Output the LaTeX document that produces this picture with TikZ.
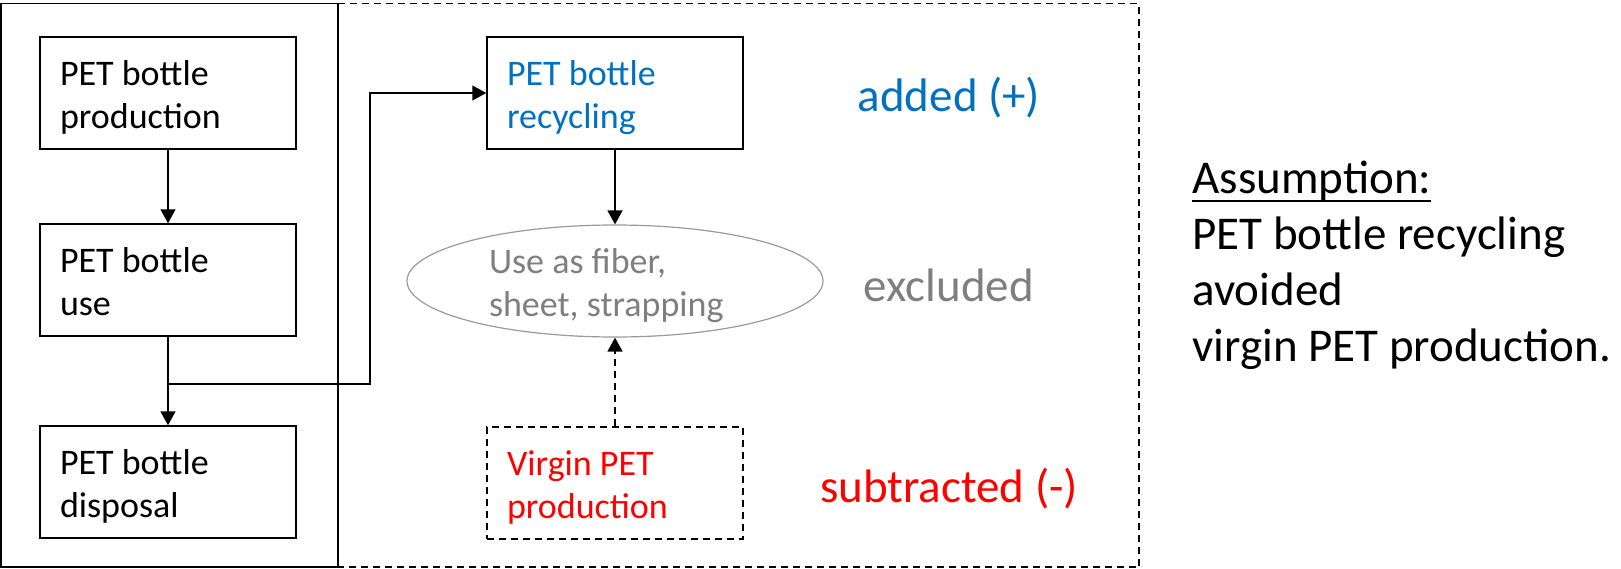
\documentclass[tikz,border=0pt]{standalone}
\usepackage{fontspec}
\setmainfont{Carlito}
\usetikzlibrary{arrows.meta,shapes.geometric}
\definecolor{xblue}{HTML}{0070C0}
\definecolor{xred}{HTML}{FF0000}
\definecolor{xgray}{HTML}{7F7F7F}
\definecolor{xlgray}{HTML}{9A9A9A}
\newcommand\myul[1]{\setbox0\hbox{#1}\rlap{\rule[-4.5pt]{\wd0}{1pt}}\box0}
\begin{document}
\begin{tikzpicture}[x=0.5pt,y=-0.5pt,
  boxtxt/.style={font=\fontsize{18pt}{21.5pt}\selectfont},
  procbox/.style={draw, line width=0.75pt, rectangle, boxtxt,
    minimum width=128pt, minimum height=56pt, text width=108pt,
    inner xsep=10pt, inner ysep=0pt, align=flush left,
    text height=15pt, text depth=23pt},
  dashbox/.style={procbox, dash pattern=on 3.5pt off 2.5pt},
  usebox/.style={ellipse, draw=xlgray, line width=0.6pt, boxtxt,
    minimum width=208pt, minimum height=56pt, inner sep=0pt,
    text width=126pt, align=flush left, text height=15pt, text depth=23pt,
    text=xgray},
  conn/.style={line width=0.75pt, -{Triangle[length=7pt,width=7.5pt]}},
  dconn/.style={conn, dash pattern=on 3.5pt off 2.5pt},
  lbl/.style={font=\fontsize{23.5pt}{28pt}\selectfont, inner sep=0pt, anchor=base}
]
\path[use as bounding box] (0,0) rectangle (1621,568);

% frames
\draw[line width=0.65pt, dash pattern=on 3.5pt off 2.5pt]
  (338,3.5) -- (1139,3.5) -- (1139,567) -- (338,567);
\draw[line width=0.75pt] (1,3.5) rectangle (338,567);

% process boxes
\node[procbox] (prod) at (168,93) {PET bottle\\production};
\node[procbox] (use) at (168,280) {PET bottle\\use};
\node[procbox] (disp) at (168,482) {PET bottle\\disposal};
\node[procbox, text=xblue] (rec) at (615,93) {PET bottle\\recycling};
\node[usebox] (ell) at (615,281) {Use as fiber,\\sheet, strapping};
\node[dashbox, text=xred] (vir) at (615,483) {Virgin PET\\production};

% connectors
\coordinate (j) at (168,384);
\coordinate (k) at (370,384);
\draw[conn] (prod) -- (use);
\draw[conn] (use) -- (disp);
\draw[conn] (j) -- (k) |- (rec);
\draw[conn] (rec) -- (ell);
\draw[dconn] (vir) -- (ell);

% labels
\node[lbl, text=xblue] (added) at (949,111) {added (+)};
\node[lbl, text=xgray] (excl) at (949,301) {excluded};
\node[lbl, text=xred] (subt) at (949,502) {subtracted (-)};

\node[anchor=base west, inner sep=0pt, text width=225pt, align=flush left,
  font=\fontsize{23.5pt}{28pt}\selectfont] (assume) at (1192,193)
  {\myul{Assumption:}\\PET bottle recycling\\avoided\\virgin PET production.};
\end{tikzpicture}
\end{document}
